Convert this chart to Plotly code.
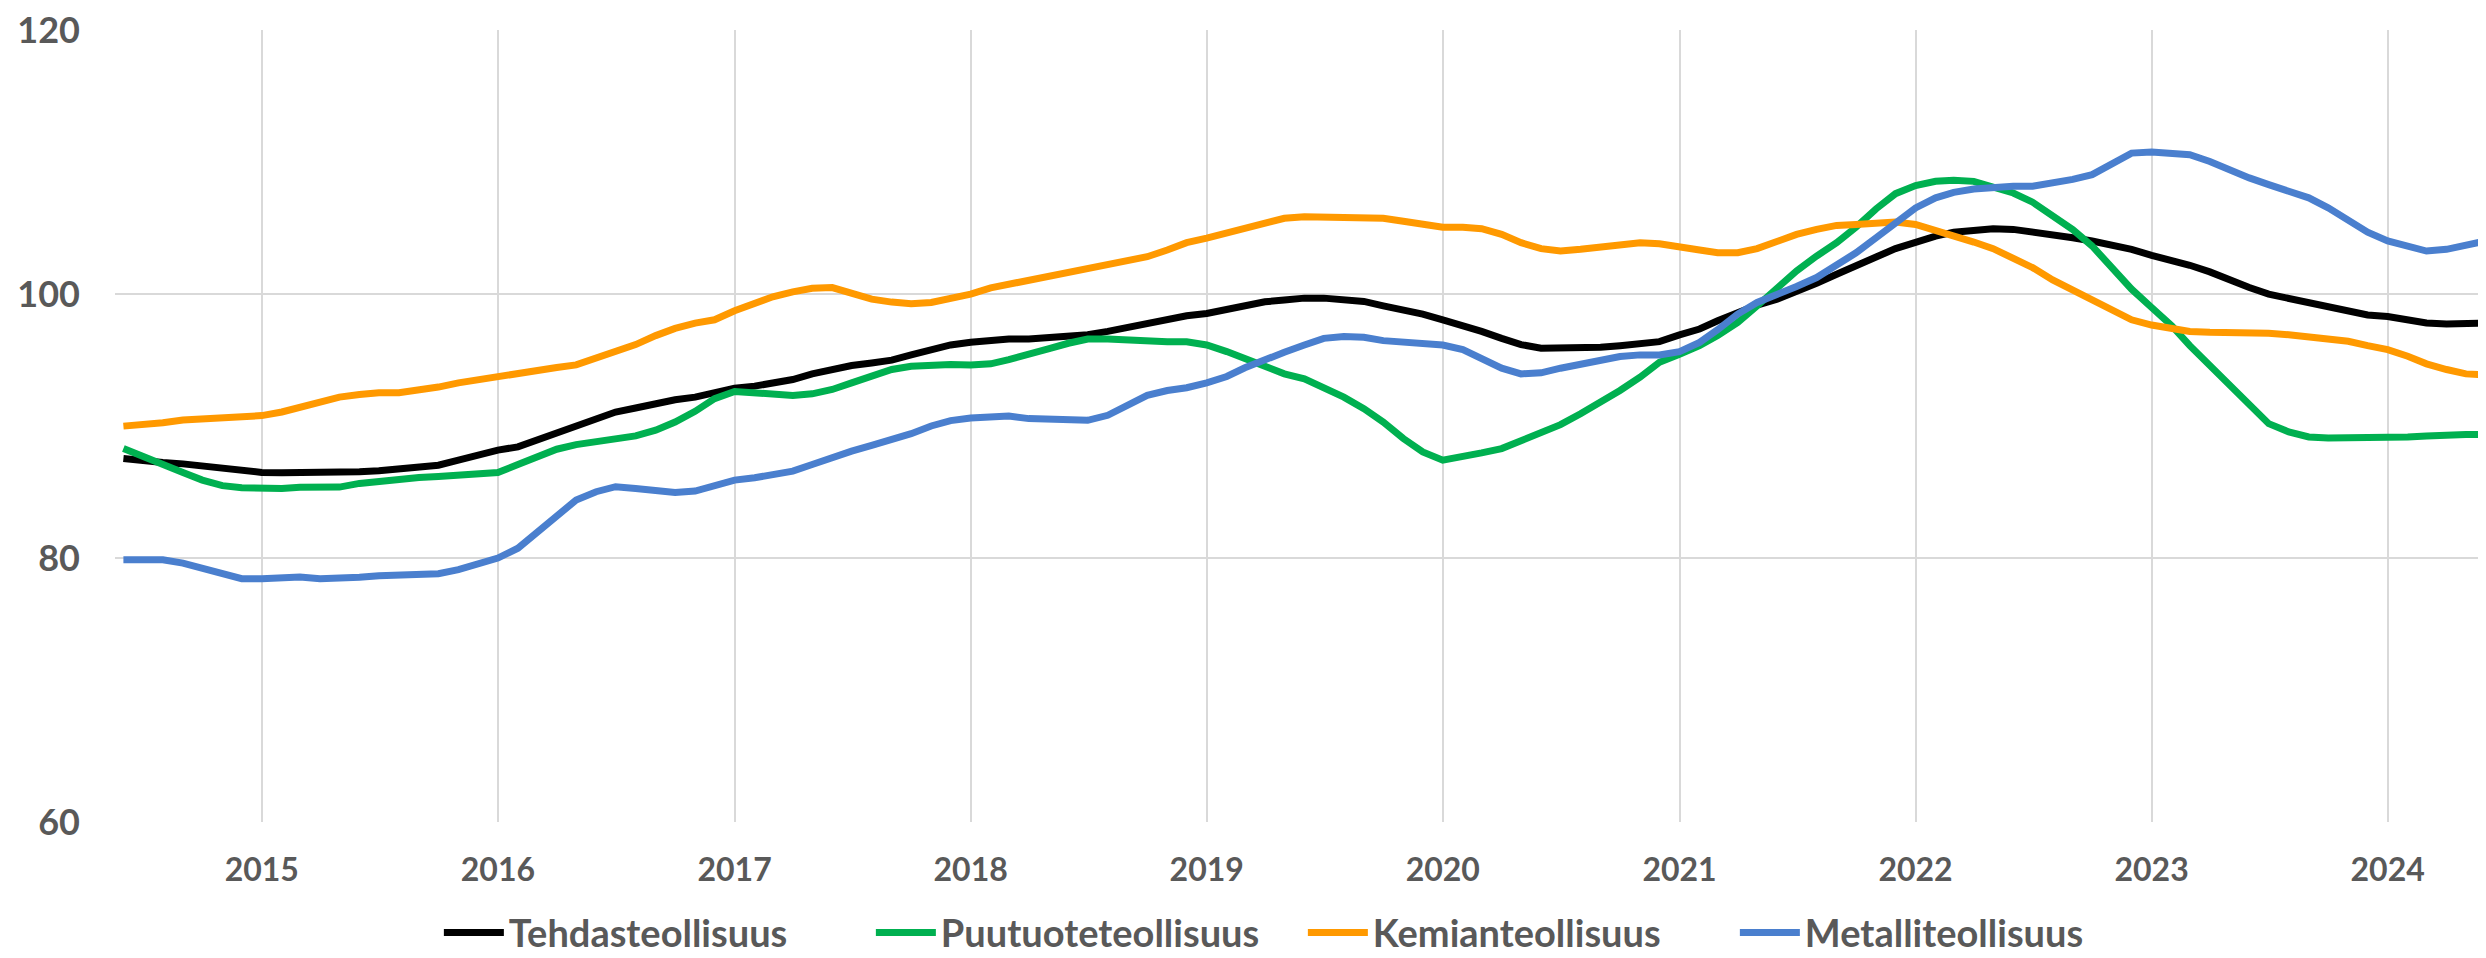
import pandas as pd
import plotly.graph_objects as go

# Monthly observations, June 2014 - June 2024
months = pd.date_range("2014-06-01", "2024-06-01", freq="MS")

tehdasteollisuus = [
    87.55, 87.35, 87.25, 87.14, 86.97, 86.8, 86.59,
    86.49, 86.47, 86.47, 86.49, 86.54, 86.54, 86.62, 86.72, 86.92, 87.04, 87.42, 87.85,
    88.18, 88.43, 88.93, 89.56, 90.11, 90.62, 91.07, 91.37, 91.7, 92.0, 92.2, 92.53,
    92.88, 93.03, 93.21, 93.53, 93.96, 94.34, 94.59, 94.79, 95.0, 95.4, 95.8, 96.15,
    96.35, 96.53, 96.6, 96.6, 96.68, 96.78, 96.93, 97.18, 97.48, 97.81, 98.04, 98.36,
    98.54, 98.87, 99.12, 99.42, 99.56, 99.7, 99.7, 99.62, 99.45, 99.12, 98.82, 98.49,
    98.06, 97.66, 97.18, 96.65, 96.18, 95.9, 95.9, 95.9, 95.97, 96.1, 96.2, 96.4,
    96.91, 97.36, 97.99, 98.62, 99.17, 99.62, 100.18, 100.83, 101.51, 102.21, 102.82, 103.45,
    103.95, 104.4, 104.7, 104.86, 104.96, 104.91, 104.73, 104.53, 104.28, 104.03, 103.77, 103.4,
    102.94, 102.57, 102.19, 101.69, 101.08, 100.5, 100.0, 99.67, 99.37, 99.07, 98.69, 98.42,
    98.31, 98.06, 97.81, 97.74, 97.81, 97.81,
]

puutuoteteollisuus = [
    88.3, 87.75, 87.17, 86.49, 85.91, 85.49, 85.33,
    85.28, 85.28, 85.36, 85.38, 85.38, 85.66, 85.84, 85.94, 86.11, 86.19, 86.29, 86.29,
    86.49, 87.09, 87.67, 88.25, 88.6, 88.81, 89.01, 89.26, 89.69, 90.31, 91.12, 92.08,
    92.63, 92.53, 92.33, 92.33, 92.45, 92.78, 93.28, 93.79, 94.29, 94.54, 94.64, 94.67,
    94.64, 94.72, 95.04, 95.4, 95.85, 96.28, 96.6, 96.6, 96.53, 96.4, 96.4, 96.4,
    96.15, 95.65, 95.09, 94.47, 93.96, 93.58, 92.96, 92.2, 91.32, 90.31, 89.06, 88.05,
    87.42, 87.67, 87.97, 88.3, 88.86, 89.43, 90.11, 90.94, 91.82, 92.7, 93.71, 94.84,
    95.45, 96.1, 96.86, 97.86, 99.12, 100.5, 101.76, 102.89, 103.9, 105.08, 106.47, 107.62,
    108.23, 108.55, 108.63, 108.55, 108.18, 107.67, 106.97, 105.96, 104.9, 103.65, 102.01, 100.38,
    98.99, 97.61, 96.1, 94.59, 93.08, 91.57, 90.19, 89.56, 89.18, 89.11, 89.11, 89.18,
    89.18, 89.18, 89.26, 89.36, 89.36, 89.36,
]

kemianteollisuus = [
    90.0, 90.1, 90.26, 90.47, 90.57, 90.7, 90.7,
    90.8, 91.07, 91.45, 91.87, 92.2, 92.4, 92.53, 92.53, 92.7, 92.96, 93.28, 93.53,
    93.79, 94.04, 94.26, 94.44, 94.64, 95.14, 95.67, 96.18, 96.86, 97.41, 97.81, 98.06,
    98.74, 99.32, 99.8, 100.18, 100.45, 100.5, 100.13, 99.62, 99.4, 99.27, 99.37, 99.67,
    100.0, 100.48, 100.75, 101.13, 101.43, 101.76, 101.94, 102.26, 102.57, 102.84, 103.35, 103.9,
    104.25, 104.65, 105.03, 105.46, 105.75, 105.86, 105.86, 105.86, 105.86, 105.76, 105.53, 105.26,
    105.08, 105.08, 104.96, 104.53, 103.9, 103.45, 103.27, 103.4, 103.6, 103.82, 103.9, 103.82,
    103.52, 103.35, 103.14, 103.14, 103.45, 104.03, 104.53, 104.91, 105.21, 105.28, 105.36, 105.46,
    105.28, 104.86, 104.4, 103.95, 103.45, 102.77, 102.01, 101.08, 100.3, 99.5, 98.67, 98.06,
    97.66, 97.36, 97.18, 97.11, 97.11, 97.11, 97.03, 96.93, 96.75, 96.65, 96.43, 96.1,
    95.8, 95.3, 94.72, 94.29, 93.96, 93.89,
]

metalliteollisuus = [
    79.87, 79.87, 79.87, 79.62, 79.25, 78.87, 78.44,
    78.44, 78.57, 78.57, 78.44, 78.44, 78.54, 78.67, 78.74, 78.74, 78.82, 79.12, 79.5,
    80.0, 80.75, 81.89, 83.27, 84.4, 85.03, 85.41, 85.28, 85.16, 84.98, 85.08, 85.53,
    85.91, 86.09, 86.29, 86.59, 87.09, 87.67, 88.1, 88.55, 88.95, 89.43, 90.01, 90.42,
    90.62, 90.74, 90.77, 90.57, 90.52, 90.44, 90.44, 90.82, 91.62, 92.33, 92.7, 92.91,
    93.28, 93.76, 94.42, 95.09, 95.6, 96.15, 96.65, 96.8, 96.73, 96.48, 96.35, 96.3,
    96.15, 95.8, 95.09, 94.39, 93.96, 94.04, 94.39, 94.67, 94.97, 95.27, 95.4, 95.4,
    95.65, 96.35, 97.31, 98.49, 99.37, 99.92, 100.58, 101.26, 102.14, 103.14, 104.28, 105.46,
    106.54, 107.3, 107.72, 107.97, 108.1, 108.18, 108.18, 108.38, 108.7, 109.06, 109.94, 110.69,
    110.77, 110.69, 110.57, 110.06, 109.38, 108.81, 108.3, 107.8, 107.3, 106.54, 105.61, 104.7,
    104.03, 103.6, 103.27, 103.4, 103.77, 104.03,
]

series_names = ["Tehdasteollisuus", "Puutuoteteollisuus", "Kemianteollisuus", "Metalliteollisuus"]
series_values = [tehdasteollisuus, puutuoteteollisuus, kemianteollisuus, metalliteollisuus]
series_colors = ["#000000", "#00B050", "#FF9900", "#4A7FCE"]

y_ticks = [60, 80, 100, 120]

FONT = "Lato"
TXT = "#595959"
GRID = "#D9D9D9"

fig = go.Figure()
for name, vals, col in zip(series_names, series_values, series_colors):
    fig.add_trace(go.Scatter(
        x=months, y=vals, name=name, mode="lines",
        line=dict(color=col, width=7),
    ))

# the page body adds an 8px offset, so margins are compensated here
fig.update_layout(
    width=2486, height=958,
    margin=dict(l=107, r=8, t=22, b=144, autoexpand=False),
    paper_bgcolor="white", plot_bgcolor="white",
    font=dict(family=FONT, color=TXT, weight="bold"),
    showlegend=True,
    legend=dict(
        orientation="h", x=0.501, xanchor="center", y=-0.100, yanchor="top",
        font=dict(size=38, family=FONT, color=TXT, weight="bold"),
        itemwidth=60, tracegroupgap=0,
        entrywidth=357, entrywidthmode="pixels",
    ),
)
fig.update_xaxes(
    type="date",
    range=["2014-05-19", "2024-06-01"],
    tick0="2015-01-01", dtick="M12", tickformat="%Y",
    showgrid=True, gridcolor=GRID, gridwidth=2,
    showline=False, zeroline=False, ticks="",
    tickfont=dict(size=32, family=FONT, color=TXT, weight="bold"),
    ticklabelstandoff=26, automargin=False,
)
fig.update_yaxes(
    range=[60, 120.02], tickvals=y_ticks,
    showgrid=True, gridcolor=GRID, gridwidth=2,
    showline=False, zeroline=False, ticks="",
    tickfont=dict(size=36, family=FONT, color=TXT, weight="bold"),
    ticklabelstandoff=34, automargin=False, ticklabeloverflow="allow",
)

fig.write_html("out.html")
